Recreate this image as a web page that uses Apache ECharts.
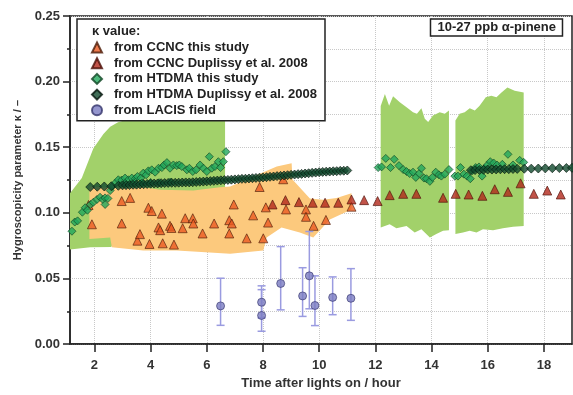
<!DOCTYPE html>
<html>
<head>
<meta charset="utf-8">
<script src="https://cdn.jsdelivr.net/npm/echarts@6/dist/echarts.min.js"></script>
<style>
    html, body { margin: 0; padding: 0; background: #fff; }
    #chart { width: 573px; height: 395px; }
</style>
</head>
<body>
<div id="chart"></div>
<script>
// x = hours after lights on, y = kappa
const xTicks = [2, 4, 6, 8, 10, 12, 14, 16, 18];

// shaded ranges: top edge left->right, then bottom edge right->left
const htdmaBand1 = [[1.13,0.115],[1.55,0.1265],[1.96,0.149],[2.32,0.160],[2.56,0.1657],[2.84,0.169],[3.15,0.171],[3.4,0.182],[6.65,0.182],
    [6.65,0.118],[4.0,0.112],[3.0,0.095],[2.6,0.074],[1.85,0.0738],[1.13,0.072]];
const htdmaBand2 = [[12.19,0.1815],[12.34,0.1905],[12.49,0.1817],[12.63,0.1888],[12.87,0.1842],[13.11,0.1805],[13.34,0.1767],[13.48,0.1755],[13.64,0.1797],[13.76,0.1717],[13.88,0.1692],[14.05,0.1742],[14.29,0.1767],[14.47,0.1755],[14.62,0.178],
    [14.62,0.0868],[14.41,0.0863],[14.17,0.0838],[13.94,0.0813],[13.64,0.0876],[13.4,0.0851],[13.11,0.090],[12.75,0.0883],[12.51,0.0913],[12.19,0.0889]];
const htdmaBand3 = [[14.85,0.1704],[15.0,0.1755],[15.18,0.1767],[15.36,0.1797],[15.54,0.178],[15.71,0.1817],[15.93,0.188],[16.13,0.1892],[16.31,0.188],[16.49,0.1917],[16.70,0.1955],[16.96,0.193],[17.28,0.1917],
    [17.28,0.090],[16.9,0.0894],[16.54,0.0883],[16.19,0.0868],[15.83,0.0876],[15.6,0.0851],[15.36,0.0863],[15.12,0.0851],[14.85,0.0838]];
const ccncBand = [[1.82,0.1203],[2.56,0.119],[3.74,0.1195],[4.34,0.1177],[5.52,0.117],[6.47,0.1195],[6.83,0.120],[8.49,0.1353],[9.02,0.1378],[9.05,0.1255],[9.67,0.111],[10.14,0.110],[10.62,0.1114],[11.15,0.115],
    [11.15,0.1026],[10.38,0.095],[9.79,0.0813],[9.31,0.085],[8.66,0.0889],[8.13,0.0813],[8.01,0.0713],[6.83,0.0688],[4.93,0.0713],[3.74,0.0713],[2.62,0.0738],[2.56,0.0813],[1.82,0.080]];

const ccncThis = [[1.79,0.106],[1.91,0.0913],[2.97,0.109],[2.97,0.0919],[3.27,0.1114],[3.53,0.0788],[3.62,0.0838],[3.92,0.1039],[3.96,0.0763],[4.04,0.1014],
    [4.28,0.0889],[4.34,0.0868],[4.40,0.0994],[4.43,0.0768],[4.69,0.0901],[4.74,0.0885],[4.83,0.0758],[5.14,0.0883],[5.23,0.0959],[5.50,0.0959],[5.52,0.0919],
    [5.85,0.0843],[6.26,0.0919],[6.80,0.0944],[6.89,0.0919],[6.80,0.0843],[6.96,0.1064],[7.42,0.0806],[7.65,0.0981],[7.88,0.1197],[8.01,0.0806],[8.10,0.1042],
    [8.18,0.0926],[8.72,0.1256],[8.82,0.1026],[9.53,0.1026],[9.53,0.097],[9.80,0.0901],[10.24,0.0946],[11.15,0.1047]];
const ccncDup = [[8.34,0.1064],[8.80,0.1097],[9.28,0.1082],[9.77,0.1077],[10.21,0.1077],[10.68,0.1077],[11.15,0.1102],[11.60,0.1097],[12.08,0.109],[12.51,0.1135],
    [12.99,0.1145],[13.46,0.1145],[14.41,0.1115],[14.86,0.1145],[15.32,0.114],[15.81,0.113],[16.25,0.118],[16.72,0.116],[17.17,0.1225],[17.64,0.1145],[18.12,0.117],[18.60,0.114]];

const htdmaThis = [[1.20,0.0860],[1.30,0.0930],[1.40,0.0939],[1.57,0.1005],[1.67,0.1039],[1.75,0.1020],[1.86,0.1064],[1.96,0.1080],[2.09,0.1102],[2.20,0.1119],
    [2.30,0.1102],[2.38,0.1114],[2.48,0.1110],[2.38,0.1064],[2.56,0.1170],[2.64,0.1202],[2.74,0.1227],[2.85,0.1252],[2.97,0.1250],[3.09,0.1265],[3.21,0.1252],
    [3.33,0.1265],[3.45,0.1260],[3.53,0.1277],[3.65,0.1265],[3.74,0.1303],[3.84,0.1290],[3.92,0.1320],[4.04,0.1328],[4.16,0.1310],[4.28,0.1340],[4.40,0.1345],
    [4.48,0.1365],[4.58,0.1383],[4.69,0.1340],[4.81,0.1365],[4.93,0.1360],[5.02,0.1365],[5.11,0.1353],[5.29,0.1328],[5.38,0.1340],[5.50,0.1315],[5.62,0.1328],
    [5.76,0.1365],[5.88,0.1340],[6.00,0.1315],[6.09,0.1428],[6.18,0.1340],[6.29,0.1353],[6.41,0.1390],[6.49,0.1345],[6.59,0.1390],[6.68,0.1466],
    [3.10,0.1225],[3.40,0.1230],[3.70,0.1228],[4.00,0.1232],[4.30,0.1230],[4.70,0.1235],
    [12.10,0.1345],[12.22,0.1350],[12.37,0.1415],[12.54,0.1345],[12.67,0.1408],[12.84,0.1360],[12.99,0.1330],[13.11,0.1315],[13.22,0.1300],[13.34,0.1310],
    [13.44,0.1270],[13.56,0.1300],[13.64,0.1340],[13.73,0.1265],[13.82,0.1260],[13.94,0.1240],[14.03,0.1270],[14.15,0.1310],[14.26,0.1290],[14.35,0.1280],
    [14.47,0.1295],[14.62,0.1330],[14.83,0.1280],[14.94,0.1280],[15.03,0.1345],[15.15,0.1295],[15.26,0.1280],[15.38,0.1260],[15.45,0.1320],[15.57,0.1345],
    [15.69,0.1350],[15.80,0.1280],[15.89,0.1340],[15.99,0.1365],[16.09,0.1390],[16.21,0.1380],[16.33,0.1365],[16.52,0.1370],[16.72,0.1446],[16.90,0.1365],
    [17.14,0.1400],[17.28,0.1385]];
const htdmaDup = [[1.85,0.1197],[2.10,0.1199],[2.35,0.1201],[2.60,0.1203],[2.85,0.1206],
    [3.000,0.1210],[3.125,0.1211],[3.250,0.1212],[3.375,0.1214],[3.500,0.1215],[3.625,0.1217],[3.750,0.1218],[3.875,0.1220],[4.000,0.1222],[4.125,0.1223],
    [4.250,0.1224],[4.375,0.1226],[4.500,0.1227],[4.625,0.1228],[4.750,0.1229],[4.875,0.1229],[5.000,0.1230],[5.125,0.1231],[5.250,0.1232],[5.375,0.1232],
    [5.500,0.1233],[5.625,0.1235],[5.750,0.1237],[5.875,0.1238],[6.000,0.1240],[6.125,0.1242],[6.250,0.1244],[6.375,0.1246],[6.500,0.1248],[6.625,0.1250],
    [6.750,0.1251],[6.875,0.1253],[7.000,0.1255],[7.125,0.1257],[7.250,0.1259],[7.375,0.1260],[7.500,0.1262],[7.625,0.1264],[7.750,0.1266],[7.875,0.1268],
    [8.000,0.1270],[8.125,0.1272],[8.250,0.1275],[8.375,0.1277],[8.500,0.1280],[8.625,0.1282],[8.750,0.1285],[8.875,0.1287],[9.000,0.1290],[9.125,0.1292],
    [9.250,0.1295],[9.375,0.1297],[9.500,0.1300],[9.625,0.1302],[9.750,0.1305],[9.875,0.1307],[10.000,0.1310],[10.125,0.1312],[10.250,0.1314],[10.375,0.1315],
    [10.500,0.1317],[10.625,0.1318],[10.750,0.1320],[10.875,0.1321],[11.000,0.1323],
    [15.40,0.1325],[15.55,0.1326],[15.70,0.1327],[15.85,0.1328],[16.00,0.1330],[16.15,0.1330],[16.30,0.1331],[16.45,0.1332],[16.60,0.1333],[16.75,0.1333],
    [16.90,0.1334],[17.05,0.1335],[17.30,0.1336],[17.55,0.1337],[17.80,0.1338],[18.05,0.1339],[18.30,0.1340],[18.55,0.1341],[18.80,0.1342],[19.00,0.1343]];

// [hour, kappa, lower, upper]
const lacis = [[6.49,0.0291,0.0143,0.0502],[7.95,0.0319,0.0200,0.0444],[7.95,0.0218,0.0098,0.0415],[8.63,0.0462,0.0261,0.0743],[9.41,0.0367,0.0211,0.0582],
    [9.65,0.0520,0.0269,0.0858],[9.85,0.0294,0.0141,0.0520],[10.48,0.0356,0.0224,0.0512],[11.13,0.0349,0.0181,0.0575]];

const FONT = 'Liberation Sans, Arial, sans-serif';

function band(points, color) {
    return {
        type: 'custom',
        silent: true,
        z: 1,
        data: [points[0]],
        renderItem: function (params, api) {
            return {
                type: 'polygon',
                shape: { points: points.map(function (p) { return api.coord(p); }) },
                style: { fill: color }
            };
        }
    };
}

let myChart = echarts.init(document.getElementById('chart'));
let option = {
    animation: false,
    textStyle: { fontFamily: FONT },
    title: {
        text: '10-27 ppb α-pinene',
        right: 10,
        top: 19,
        padding: [2, 7, 2, 7],
        borderColor: '#222',
        borderWidth: 1.5,
        backgroundColor: '#fff',
        textStyle: { fontFamily: FONT, fontSize: 13, fontWeight: 'bold', color: '#222' }
    },
    legend: {
        orient: 'vertical',
        left: 77,
        top: 19,
        padding: [22, 8, 4, 14],
        itemWidth: 10,
        itemHeight: 10,
        itemGap: 2.7,
        symbolKeepAspect: true,
        backgroundColor: '#fff',
        borderColor: '#222',
        borderWidth: 1.5,
        textStyle: { fontFamily: FONT, fontSize: 13, fontWeight: 'bold', color: '#222', padding: [0, 0, 0, 7] },
        data: ['from CCNC this study', 'from CCNC Duplissy et al. 2008', 'from HTDMA this study',
               'from HTDMA Duplissy et al. 2008', 'from LACIS field']
    },
    graphic: [{
        type: 'text', left: 92, top: 25, z: 100,
        style: { text: 'κ value:', font: 'bold 13px ' + FONT, fill: '#222' }
    }],
    grid: { left: 70, right: 1, top: 16, bottom: 46, show: true, borderColor: '#222', borderWidth: 1.5 },
    xAxis: {
        type: 'value',
        min: 1.13,
        max: 19,
        splitNumber: 9,
        minInterval: 2,
        maxInterval: 2,
        name: 'Time after lights on / hour',
        nameLocation: 'middle',
        nameGap: 32,
        nameTextStyle: { fontFamily: FONT, fontSize: 13, fontWeight: 'bold', color: '#333' },
        axisLine: { lineStyle: { color: '#222', width: 1.5 } },
        axisTick: { show: true, length: 8, customValues: xTicks, lineStyle: { color: '#222', width: 1.5 } },
        axisLabel: { customValues: xTicks, fontFamily: FONT, fontSize: 13, fontWeight: 'bold', color: '#333', margin: 15 },
        splitLine: { show: true, lineStyle: { color: '#c8c8c8', type: 'dotted' } }
    },
    yAxis: {
        type: 'value',
        min: 0,
        max: 0.25,
        interval: 0.05,
        name: 'Hygroscopicity parameter κ / –',
        nameLocation: 'middle',
        nameGap: 41,
        nameTextStyle: { fontFamily: FONT, fontSize: 11, fontWeight: 'bold', color: '#333' },
        axisLine: { show: true, lineStyle: { color: '#222', width: 1.5 } },
        axisTick: { show: true, length: 7, lineStyle: { color: '#222', width: 1.5 } },
        minorTick: { show: true, splitNumber: 2, length: 3, lineStyle: { color: '#222', width: 1.5 } },
        axisLabel: {
            fontFamily: FONT, fontSize: 13, fontWeight: 'bold', color: '#333', margin: 10,
            formatter: function (v) { return v.toFixed(2); }
        },
        splitLine: { show: true, lineStyle: { color: '#c8c8c8', type: 'dotted' } },
        minorSplitLine: { show: true, lineStyle: { color: '#c8c8c8', type: 'dotted' } }
    },
    series: [
        band(htdmaBand1, '#a2d16a'),
        band(htdmaBand2, '#a2d16a'),
        band(htdmaBand3, '#a2d16a'),
        band(ccncBand, '#fcc97d'),
        {
            name: 'from CCNC this study', type: 'scatter', symbol: 'triangle', symbolSize: 9, z: 3, symbolKeepAspect: true,
            itemStyle: { color: '#ea5a22', borderColor: '#4a1a08', borderWidth: 0.8 },
            data: ccncThis
        },
        {
            name: 'from CCNC Duplissy et al. 2008', type: 'scatter', symbol: 'triangle', symbolSize: 9, z: 3, symbolKeepAspect: true,
            itemStyle: { color: '#b2281c', borderColor: '#4a0e06', borderWidth: 0.8 },
            data: ccncDup
        },
        {
            name: 'from HTDMA this study', type: 'scatter', symbol: 'diamond', symbolSize: 8, z: 4, symbolKeepAspect: true,
            itemStyle: { color: '#22a85c', borderColor: '#0e4322', borderWidth: 0.8 },
            data: htdmaThis
        },
        {
            name: 'from HTDMA Duplissy et al. 2008', type: 'scatter', symbol: 'diamond', symbolSize: 9, z: 4, symbolKeepAspect: true,
            itemStyle: { color: '#114a2e', borderColor: '#04140b', borderWidth: 0.8 },
            data: htdmaDup
        },
        {
            type: 'custom', silent: true, z: 5,
            data: lacis,
            renderItem: function (params, api) {
                const h = api.value(0);
                const lo = api.coord([h, api.value(2)]);
                const hi = api.coord([h, api.value(3)]);
                const st = { stroke: '#9a9be0', lineWidth: 1.5 };
                return {
                    type: 'group',
                    children: [
                        { type: 'line', shape: { x1: lo[0], y1: lo[1], x2: hi[0], y2: hi[1] }, style: st },
                        { type: 'line', shape: { x1: lo[0] - 4, y1: lo[1], x2: lo[0] + 4, y2: lo[1] }, style: st },
                        { type: 'line', shape: { x1: hi[0] - 4, y1: hi[1], x2: hi[0] + 4, y2: hi[1] }, style: st }
                    ]
                };
            }
        },
        {
            name: 'from LACIS field', type: 'scatter', symbol: 'circle', symbolSize: 8, z: 6,
            itemStyle: { color: '#7a7cc2', borderColor: '#33336a', borderWidth: 0.8 },
            data: lacis.map(function (d) { return [d[0], d[1]]; })
        }
    ]
};
myChart.setOption(option);
</script>
</body>
</html>
